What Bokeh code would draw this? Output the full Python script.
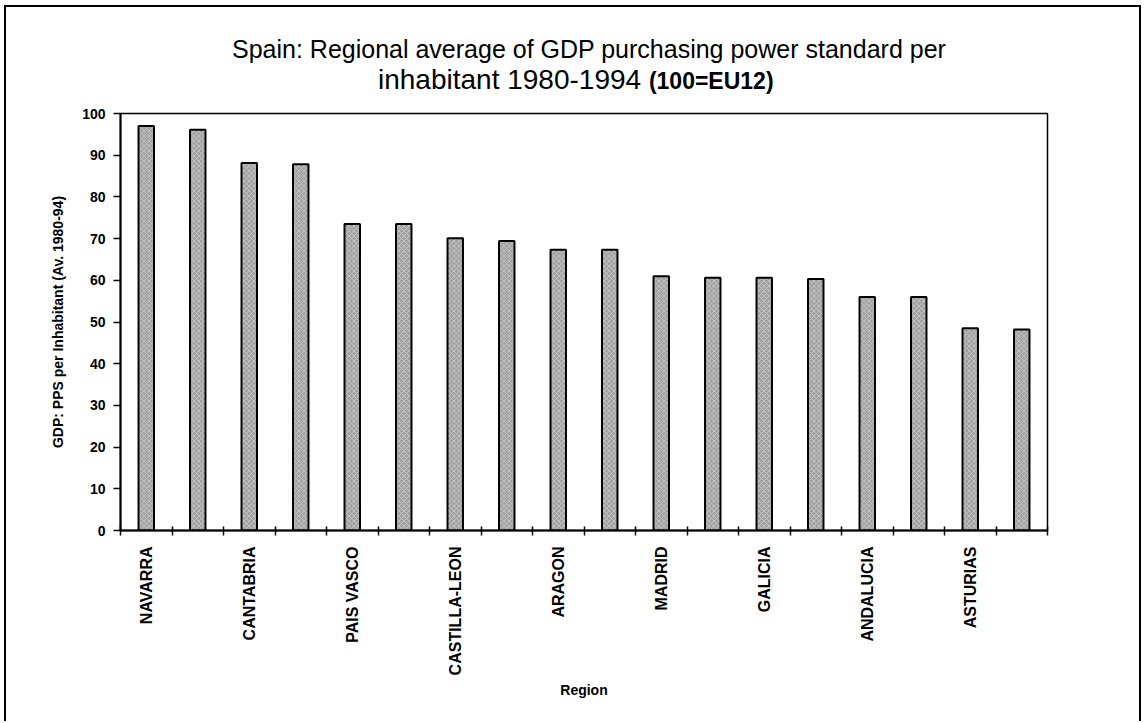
import math
from bokeh.plotting import figure
from bokeh.models import Range1d, FixedTicker, Div
from bokeh.layouts import column
from bokeh.embed import file_html
from bokeh.resources import INLINE

# ---- data ----
region_labels = ["NAVARRA", "", "CANTABRIA", "", "PAIS VASCO", "", "CASTILLA-LEON", "",
                 "ARAGON", "", "MADRID", "", "GALICIA", "", "ANDALUCIA", "", "ASTURIAS", ""]
gdp_pps = [97.0, 96.1, 88.1, 87.8, 73.5, 73.5, 70.1, 69.4, 67.3,
           67.3, 61.0, 60.6, 60.6, 60.3, 56.0, 56.0, 48.5, 48.2]
y_ticks = [0, 10, 20, 30, 40, 50, 60, 70, 80, 90, 100]

title_line1 = "Spain: Regional average of GDP purchasing power standard per"
title_line2 = "inhabitant 1980-1994"
title_line2_bold = "(100=EU12)"
y_label = "GDP: PPS per Inhabitant (Av. 1980-94)"
x_label = "Region"

FONT = "Liberation Sans"
W = 1133

n = len(gdp_pps)
xs = [i + 0.5 for i in range(n)]

title_html = (
    f'<div style="position:relative;width:{W}px;height:96px;font-family:\'{FONT}\';color:black;white-space:nowrap;">'
    f'<span style="position:absolute;left:226px;top:30px;font-size:25px;line-height:25px;">{title_line1}</span>'
    f'<span style="position:absolute;left:372px;top:59px;font-size:28px;line-height:28px;">{title_line2} '
    f'<b style="font-size:23px;">{title_line2_bold}</b></span>'
    '</div>'
)
title_div = Div(text=title_html, width=W, height=96, margin=0)

p = figure(width=W, height=618, output_backend="svg", toolbar_location=None,
           x_range=Range1d(0, n), y_range=Range1d(0, 100),
           min_border_left=114, min_border_right=W - 114 - 927, min_border_top=10,
           min_border_bottom=191, margin=0)

p.vbar(x=xs, top=gdp_pps, width=0.3, fill_color="#a3a3a3", line_color="black", line_width=2,
       hatch_pattern="x", hatch_color="#e8e8e8", hatch_alpha=0.55, hatch_scale=5, hatch_weight=0.8)

p.xgrid.visible = False
p.ygrid.visible = False
p.outline_line_color = "black"
p.outline_line_width = 1.5
p.outline_line_alpha = 1.0
p.background_fill_color = "white"
p.border_fill_color = "white"

# x axis
label_pos = [xs[i] for i, l in enumerate(region_labels) if l]
xa = p.xaxis[0]
xa.ticker = FixedTicker(ticks=label_pos, minor_ticks=list(range(0, n + 1)))
xa.major_label_overrides = {xs[i]: l for i, l in enumerate(region_labels) if l}
xa.major_label_orientation = math.pi / 2
xa.major_tick_in = 0
xa.major_tick_out = 0
xa.minor_tick_in = 4
xa.minor_tick_out = 5
xa.minor_tick_line_color = "black"
xa.minor_tick_line_width = 1.5
xa.major_label_standoff = 11
xa.major_label_text_font = FONT
xa.major_label_text_font_size = "16px"
xa.major_label_text_font_style = "bold"
xa.major_label_text_color = "black"
xa.axis_line_color = "black"
xa.axis_line_width = 2
xa.axis_label = x_label
xa.axis_label_text_font = FONT
xa.axis_label_text_font_size = "14px"
xa.axis_label_text_font_style = "bold"
xa.axis_label_text_color = "black"
xa.axis_label_standoff = 4

# y axis
ya = p.yaxis[0]
ya.ticker = FixedTicker(ticks=y_ticks)
ya.minor_tick_line_color = None
ya.major_tick_in = 0
ya.major_tick_out = 7
ya.major_tick_line_color = "black"
ya.major_tick_line_width = 1.5
ya.major_label_standoff = 8
ya.major_label_text_font = FONT
ya.major_label_text_font_size = "14px"
ya.major_label_text_font_style = "bold"
ya.major_label_text_color = "black"
ya.axis_line_color = "black"
ya.axis_line_width = 2
ya.axis_label = y_label
ya.axis_label_text_font = FONT
ya.axis_label_text_font_size = "14px"
ya.axis_label_text_font_style = "bold"
ya.axis_label_text_color = "black"
ya.axis_label_standoff = 13

layout = column(title_div, p, spacing=0)
layout.styles = {"margin-left": "4px", "margin-top": "5px",
                 "border-left": "2px solid black", "border-top": "2px solid black",
                 "border-right": "2px solid black"}

open("out.html", "w").write(file_html(layout, INLINE))
